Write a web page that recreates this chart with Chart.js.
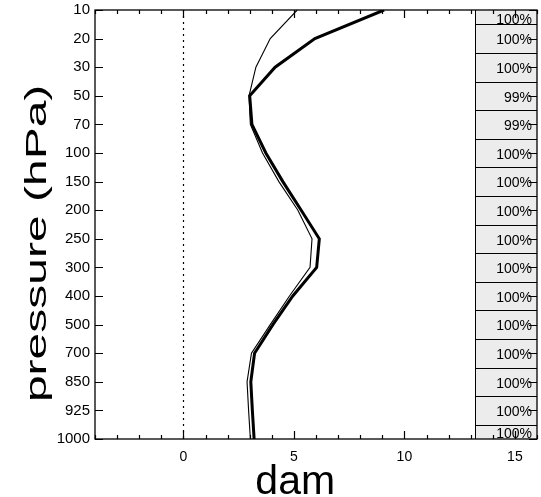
<!DOCTYPE html>
<html>
<head>
<meta charset="utf-8">
<script src="https://cdn.jsdelivr.net/npm/chart.js@4.4.1/dist/chart.umd.min.js"></script>
<style>
html,body{margin:0;padding:0;background:#fff;}
#wrap{width:541px;height:497px;}
</style>
</head>
<body>
<div id="wrap"><canvas id="c" width="541" height="497"></canvas></div>
<script>
// ---- data ----
const levels = ['10','20','30','50','70','100','150','200','250','300','400','500','700','850','925','1000'];
const thickSeries = [9.08, 5.95, 4.15, 3.0, 3.1, 3.73, 4.5, 5.33, 6.15, 6.03, 4.95, 4.05, 3.22, 3.05, 3.12, 3.2];
const thinSeries  = [5.15, 3.93, 3.28, 2.97, 3.03, 3.58, 4.32, 5.18, 5.82, 5.73, 4.8, 3.93, 3.08, 2.88, 2.95, 3.03];
const percents = [100,100,100,99,99,100,100,100,100,100,100,100,100,100,100,100];
const xTitle = 'dam';
const yTitle = 'pressure (hPa)';
const panelStart = 13.2;

const toPts = arr => arr.map((v,i)=>({x:v,y:i}));
const FONT = '"Liberation Sans", Arial, sans-serif';

const decor = {
  id:'decor',
  beforeDatasetsDraw(chart){
    const {ctx, chartArea:a, scales:{x,y}} = chart;
    ctx.save();
    // zero dotted line
    ctx.strokeStyle='#000'; ctx.lineWidth=1.2; ctx.setLineDash([2,4]);
    const x0 = Math.round(x.getPixelForValue(0))+0.5;
    ctx.beginPath(); ctx.moveTo(x0,a.top); ctx.lineTo(x0,a.bottom); ctx.stroke();
    ctx.setLineDash([]);
    // panel boxes
    const px = x.getPixelForValue(panelStart);
    ctx.fillStyle='#ececec';
    ctx.fillRect(px,a.top,a.right-px,a.bottom-a.top);
    const bounds = [];
    for(let i=0;i<levels.length;i++){
      const top = i===0 ? a.top : (y.getPixelForValue(i-0.5));
      const bot = i===levels.length-1 ? a.bottom : (y.getPixelForValue(i+0.5));
      bounds.push([top,bot]);
    }
    ctx.fillStyle='#000';
    ctx.font='14px '+FONT;
    ctx.textAlign='right'; ctx.textBaseline='middle';
    percents.forEach((p,i)=>{
      const [t,b]=bounds[i];
      const off = i===0 ? 3 : 2;
      ctx.fillText(p+'%', a.right-5, (t+b)/2+off);
    });
    ctx.strokeStyle='#000'; ctx.lineWidth=1;
    ctx.beginPath();
    ctx.moveTo(Math.round(px)+0.5,a.top); ctx.lineTo(Math.round(px)+0.5,a.bottom);
    for(let i=1;i<levels.length;i++){
      const yy=Math.round(bounds[i][0])+0.5;
      ctx.moveTo(px,yy); ctx.lineTo(a.right,yy);
    }
    ctx.stroke();
    ctx.restore();
  },
  afterDraw(chart){
    const {ctx, chartArea:a, scales:{x,y}} = chart;
    ctx.save();
    ctx.strokeStyle='#000'; ctx.lineWidth=1.3;
    ctx.strokeRect(a.left,a.top,a.right-a.left,a.bottom-a.top);
    ctx.lineWidth=1.2;
    ctx.beginPath();
    for(let v=-4; v<=16; v++){
      const xx=Math.round(x.getPixelForValue(v))+0.5;
      const len = v%5===0 ? 8 : 4;
      ctx.moveTo(xx,a.bottom); ctx.lineTo(xx,a.bottom-len);
      ctx.moveTo(xx,a.top); ctx.lineTo(xx,a.top+len);
    }
    for(let i=0;i<levels.length;i++){
      const yy=Math.round(y.getPixelForValue(i))+0.5;
      ctx.moveTo(a.left,yy); ctx.lineTo(a.left+8,yy);
      ctx.moveTo(a.right,yy); ctx.lineTo(a.right-8,yy);
    }
    ctx.stroke();
    // axis titles
    ctx.fillStyle='#000';
    ctx.font='41px '+FONT;
    ctx.textAlign='center'; ctx.textBaseline='alphabetic';
    ctx.fillText(xTitle, a.left + 0.453*(a.right-a.left), chart.height-3);
    ctx.save();
    ctx.translate(38, a.top + 0.544*(a.bottom-a.top));
    ctx.rotate(-Math.PI/2);
    ctx.scale(1.6,1);
    ctx.font='30px '+FONT;
    ctx.textBaseline='middle';
    ctx.fillText(yTitle,0,0);
    ctx.restore();
    ctx.restore();
  }
};

new Chart(document.getElementById('c'),{
  type:'line',
  data:{datasets:[
    {label:'thick', data:toPts(thickSeries), borderColor:'#000', borderWidth:3, pointRadius:0, tension:0, fill:false},
    {label:'thin', data:toPts(thinSeries), borderColor:'#000', borderWidth:1.1, pointRadius:0, tension:0, fill:false}
  ]},
  options:{
    responsive:false, animation:false,
    layout:{padding:{left:0,right:4,top:10,bottom:0}},
    plugins:{legend:{display:false}, tooltip:{enabled:false}},
    scales:{
      x:{type:'linear', min:-4, max:16,
        grid:{display:false, drawTicks:false},
        border:{display:false},
        afterFit(s){ s.height=58; s.paddingLeft=0; s.paddingRight=0; },
        ticks:{stepSize:1, autoSkip:false, maxRotation:0, padding:10, color:'#000',
          font:{size:14, family:FONT},
          callback:v=> (v%5===0 && v>=0) ? String(v) : ''}
      },
      y:{type:'linear', min:0, max:15, reverse:true,
        grid:{display:false, drawTicks:false},
        border:{display:false},
        afterFit(s){ s.width=95; s.paddingTop=0; s.paddingBottom=0; },
        ticks:{stepSize:1, autoSkip:false, padding:5, color:'#000',
          font:{size:15, family:FONT},
          callback:v=> levels[v] !== undefined ? levels[v] : ''}
      }
    }
  },
  plugins:[decor]
});
</script>
</body>
</html>
